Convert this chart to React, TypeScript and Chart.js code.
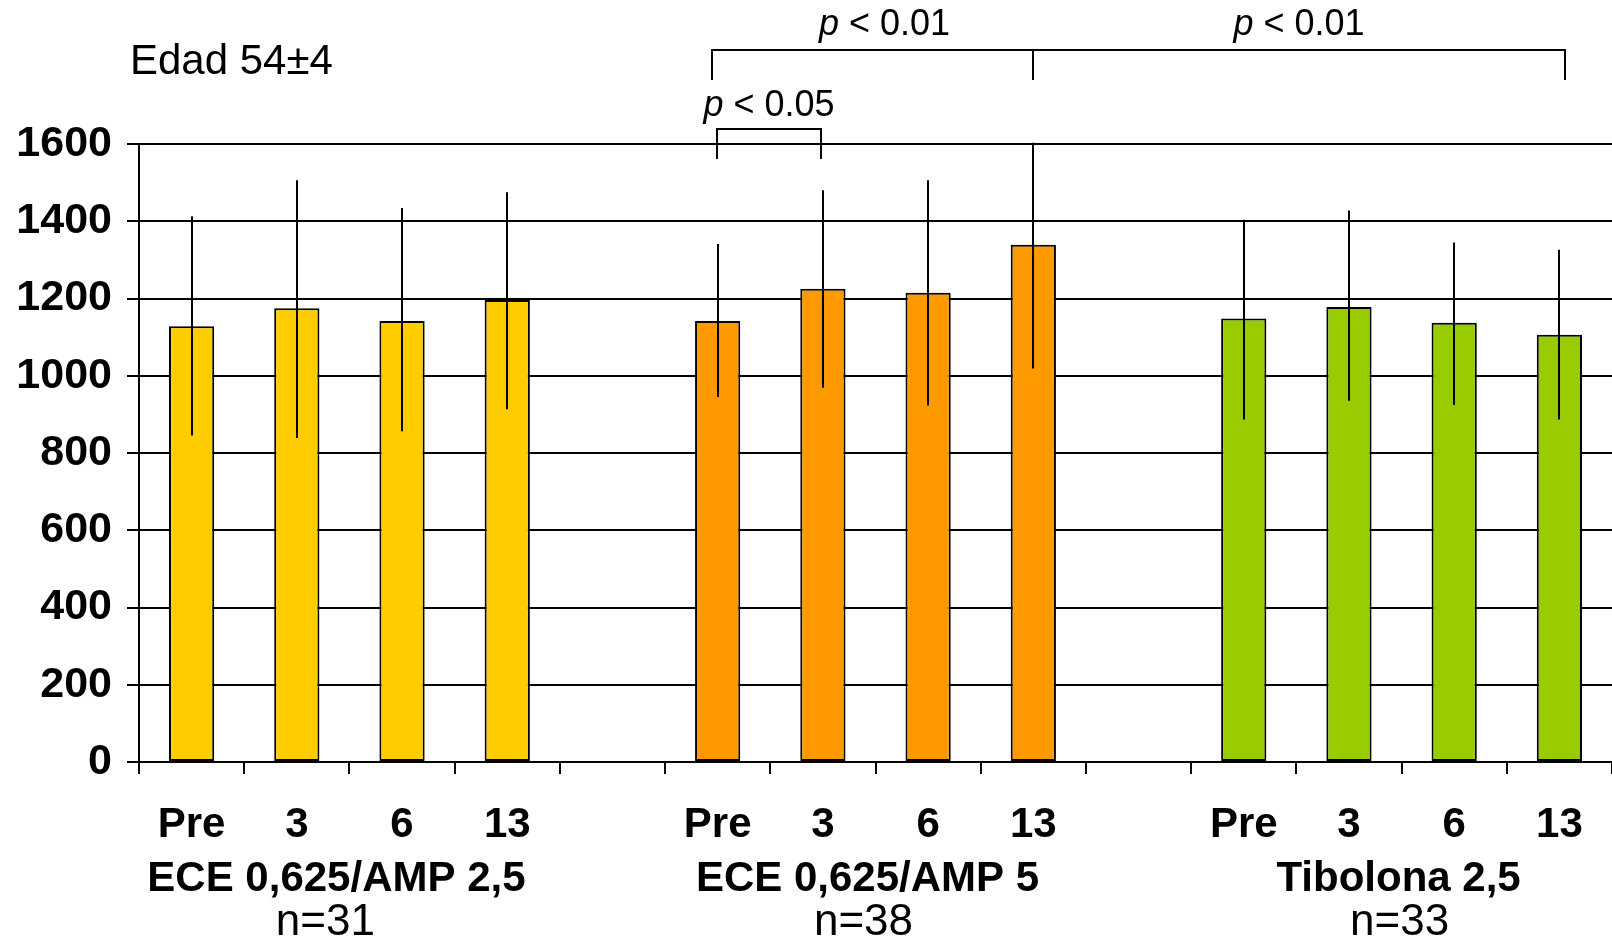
import { useEffect, useRef } from "react";
import { Chart, registerables } from "chart.js";

Chart.register(...registerables);

// Time points within each treatment group (months)
const timeLabels = ["Pre", "3", "6", "13"];
const groupNames = ["ECE 0,625/AMP 2,5", "ECE 0,625/AMP 5", "Tibolona 2,5"];
const groupSizes = ["n=31", "n=38", "n=33"];
const groupColors = ["#FFCC00", "#FF9900", "#99CC00"];

// Means and error extents (above / below the mean)
const ece25Mean = [1128, 1175, 1142, 1196];
const ece25Up = [285, 331, 292, 279];
const ece25Down = [283, 336, 286, 283];

const ece5Mean = [1142, 1225, 1215, 1339];
const ece5Up = [199, 255, 291, 264];
const ece5Down = [197, 256, 292, 320];

const tiboMean = [1148, 1178, 1137, 1106];
const tiboUp = [256, 250, 208, 220];
const tiboDown = [261, 243, 213, 219];

const yMin = 0;
const yMax = 1600;
const yStep = 200;

const ageNote = "Edad 54±4";

// Significance brackets between category slots (slot index in the 14-slot axis)
const comparisons = [
  { from: 5, to: 8, tier: 0, pText: "p", rest: " < 0.01" },
  { from: 8, to: 13, tier: 0, pText: "p", rest: " < 0.01" },
  { from: 5, to: 6, tier: 1, pText: "p", rest: " < 0.05" },
];

const FONT = '"Liberation Sans", Arial, Helvetica, sans-serif';

// Flattened axis: 4 bars, gap, 4 bars, gap, 4 bars
const axisLabels = [...timeLabels, "", ...timeLabels, "", ...timeLabels];
const means: (number | null)[] = [...ece25Mean, null, ...ece5Mean, null, ...tiboMean];
const errUp: (number | null)[] = [...ece25Up, null, ...ece5Up, null, ...tiboUp];
const errDown: (number | null)[] = [...ece25Down, null, ...ece5Down, null, ...tiboDown];
const barColors = [
  ...timeLabels.map(() => groupColors[0]),
  "transparent",
  ...timeLabels.map(() => groupColors[1]),
  "transparent",
  ...timeLabels.map(() => groupColors[2]),
];
const groupSlots = [
  [0, 3],
  [5, 8],
  [10, 13],
];

const errorBarPlugin = {
  id: "errorBars",
  afterDatasetsDraw(chart: any) {
    const { ctx } = chart;
    const y = chart.scales.y;
    const meta = chart.getDatasetMeta(0);
    ctx.save();
    ctx.strokeStyle = "#000";
    ctx.lineWidth = 2;
    means.forEach((m, i) => {
      if (m == null) return;
      const bar = meta.data[i];
      const x = Math.round(bar.x);
      ctx.beginPath();
      ctx.moveTo(x, y.getPixelForValue(m + (errUp[i] as number)));
      ctx.lineTo(x, y.getPixelForValue(m - (errDown[i] as number)));
      ctx.stroke();
    });
    ctx.restore();
  },
};

function drawPLabel(ctx: CanvasRenderingContext2D, cx: number, baseline: number, pText: string, rest: string, size: number) {
  ctx.font = `italic ${size}px ${FONT}`;
  const wp = ctx.measureText(pText).width;
  ctx.font = `${size}px ${FONT}`;
  const wr = ctx.measureText(rest).width;
  const x0 = cx - (wp + wr) / 2;
  ctx.textAlign = "left";
  ctx.textBaseline = "alphabetic";
  ctx.font = `italic ${size}px ${FONT}`;
  ctx.fillText(pText, x0, baseline);
  ctx.font = `${size}px ${FONT}`;
  ctx.fillText(rest, x0 + wp, baseline);
}

const annotationPlugin = {
  id: "annotations",
  afterDraw(chart: any) {
    const { ctx } = chart;
    const xs = chart.scales.x;
    ctx.save();
    ctx.fillStyle = "#000";
    ctx.strokeStyle = "#000";

    // Age note, top left
    ctx.font = `42px ${FONT}`;
    ctx.textAlign = "left";
    ctx.textBaseline = "alphabetic";
    ctx.fillText(ageNote, 130, 74);

    // Group names and sizes beneath the time labels
    const nameShift = [-13, -8, -3];
    const sizeShift = [-24, -12, -2];
    groupSlots.forEach(([a, b], g) => {
      const cx = (xs.getPixelForValue(a) + xs.getPixelForValue(b)) / 2;
      ctx.textAlign = "center";
      ctx.font = `bold 42px ${FONT}`;
      ctx.fillText(groupNames[g], cx + nameShift[g], 891);
      ctx.font = `44px ${FONT}`;
      ctx.fillText(groupSizes[g], cx + sizeShift[g], 935);
    });

    // Significance brackets (small hand-drawn nudges on the bracket feet and labels)
    const tiers = [
      { bar: 50, foot: 80, text: 35 },
      { bar: 129, foot: 159, text: 116 },
    ];
    const footNudge = [
      [-6, 0],
      [0, 6],
      [-1, -2],
    ];
    const labelNudge = [12, 0, 0];
    ctx.lineWidth = 2;
    comparisons.forEach((c, k) => {
      const t = tiers[c.tier];
      const x1 = Math.round(xs.getPixelForValue(c.from)) + footNudge[k][0];
      const x2 = Math.round(xs.getPixelForValue(c.to)) + footNudge[k][1];
      ctx.beginPath();
      ctx.moveTo(x1, t.foot);
      ctx.lineTo(x1, t.bar);
      ctx.lineTo(x2, t.bar);
      ctx.lineTo(x2, t.foot);
      ctx.stroke();
      drawPLabel(ctx, (x1 + x2) / 2 + labelNudge[k], t.text, c.pText, c.rest, 36);
    });
    ctx.restore();
  },
};

export default function App() {
  const canvasRef = useRef<HTMLCanvasElement | null>(null);

  useEffect(() => {
    const canvas = canvasRef.current;
    if (!canvas) return;
    const chart = new Chart(canvas, {
      type: "bar",
      data: {
        labels: axisLabels,
        datasets: [
          {
            data: means as any,
            backgroundColor: barColors,
            borderColor: "#000",
            borderWidth: 2,
            borderSkipped: false,
            barPercentage: 0.43,
            categoryPercentage: 1,
          },
        ],
      },
      options: {
        responsive: false,
        animation: false,
        devicePixelRatio: 1,
        layout: { padding: { top: 144, right: 0, left: 0, bottom: 0 } },
        plugins: {
          legend: { display: false },
          tooltip: { enabled: false },
        },
        scales: {
          x: {
            offset: true,
            grid: {
              offset: true,
              drawOnChartArea: false,
              drawTicks: true,
              tickLength: 12,
              color: "#000",
              lineWidth: 2,
            },
            border: { display: true, color: "#000", width: 2 },
            ticks: {
              color: "#000",
              font: { family: FONT, size: 42, weight: "bold" },
              padding: 26,
              autoSkip: false,
              maxRotation: 0,
              minRotation: 0,
            },
            afterFit(scale: any) {
              scale.height = 177;
            },
          },
          y: {
            min: yMin,
            max: yMax,
            grid: {
              color: "#000",
              lineWidth: 2,
              drawTicks: true,
              tickLength: 12,
            },
            border: { display: true, color: "#000", width: 2 },
            ticks: {
              stepSize: yStep,
              color: "#000",
              font: { family: FONT, size: 43, weight: "bold" },
              padding: 15,
              callback: (v: any) => String(v),
            },
            afterFit(scale: any) {
              scale.width = 139;
            },
          },
        },
      },
      plugins: [errorBarPlugin, annotationPlugin],
    });
    return () => chart.destroy();
  }, []);

  return (
    <div style={{ position: "fixed", left: 0, top: 0, width: 1612, height: 939, background: "#fff" }}>
      <canvas ref={canvasRef} width={1612} height={939} style={{ display: "block" }} />
    </div>
  );
}
